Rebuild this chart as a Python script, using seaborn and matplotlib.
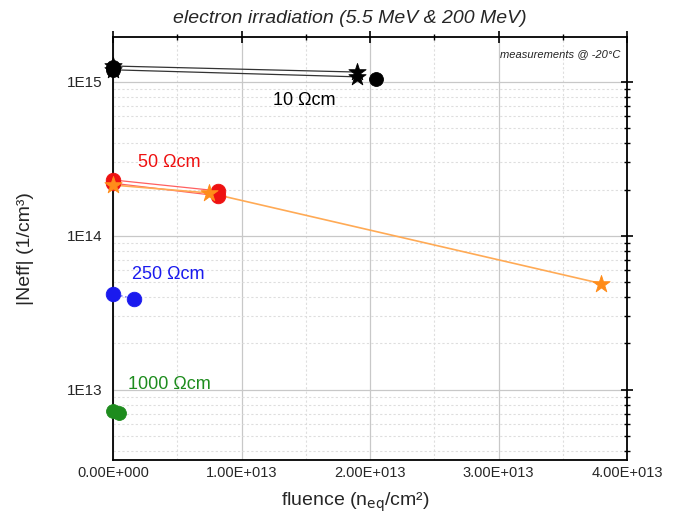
import numpy as np
import pandas as pd
import matplotlib
matplotlib.use("Agg")
import matplotlib.pyplot as plt
import seaborn as sns
from matplotlib.ticker import FixedLocator, FuncFormatter, LogLocator, MultipleLocator

sns.set_theme(style="white")
plt.rcParams['font.family'] = ['Liberation Sans', 'DejaVu Sans']

# ---- data ----
# 10 Ohm cm (black)
blk_circ_x = [0.0, 0.0, 2.05e13]
blk_circ_y = [1.25e15, 1.20e15, 1.05e15]
blk_starA_x = [0.0, 1.9e13]
blk_starA_y = [1.27e15, 1.16e15]
blk_starB_x = [0.0, 1.9e13]
blk_starB_y = [1.20e15, 1.08e15]
# 50 Ohm cm (red circles, orange stars)
red_A_x = [0.0, 8.2e12]
red_A_y = [2.31e14, 1.96e14]
red_B_x = [0.0, 8.2e12]
red_B_y = [2.20e14, 1.82e14]
org_star_x = [0.0, 7.5e12, 3.8e13]
org_star_y = [2.14e14, 1.90e14, 4.9e13]
# 250 Ohm cm (blue)
blu_x = [0.0, 1.65e12]
blu_y = [4.2e13, 3.9e13]
# 1000 Ohm cm (green)
grn_x = [0.0, 5.0e11]
grn_y = [7.3e12, 7.1e12]

labels = ["10 \u03a9cm", "50 \u03a9cm", "250 \u03a9cm", "1000 \u03a9cm"]
xticks = [0, 1e13, 2e13, 3e13, 4e13]
xticklabels = ["0.00E+000", "1.00E+013", "2.00E+013", "3.00E+013", "4.00E+013"]
yticks = [1e13, 1e14, 1e15]
yticklabels = ["1E13", "1E14", "1E15"]

fig = plt.figure(figsize=(6.74, 5.21), dpi=100)
ax = fig.add_axes([113/674, 1-460/521, (627-113)/674, (460-37)/521])
ax.set_yscale('log')
ax.set_xlim(0, 4e13)
ax.set_ylim(3.5e12, 1.96e15)

# grid
ax.xaxis.set_minor_locator(MultipleLocator(5e12))
ax.yaxis.set_minor_locator(LogLocator(base=10, subs=np.arange(2, 10)))
ax.grid(True, which='major', color='#c8c8c8', lw=0.9, ls='-')
ax.grid(True, which='minor', color='#dedede', lw=0.8, ls=(0, (2, 2)))
ax.set_axisbelow(True)

def line(x, y, color, lw=1.0, ls='-'):
    d = pd.DataFrame({'x': x, 'y': y})
    sns.lineplot(data=d, x='x', y='y', ax=ax, color=color, lw=lw, ls=ls,
                 estimator=None, sort=False, zorder=3)

def pts(x, y, color, marker='o', s=90, ec=None):
    d = pd.DataFrame({'x': x, 'y': y})
    sns.scatterplot(data=d, x='x', y='y', ax=ax, color=color, marker=marker, s=s,
                    edgecolor=ec if ec else color, linewidth=0.6, zorder=5, clip_on=False)

# black
line(blk_starA_x, blk_starA_y, '#333333', lw=0.9)
line(blk_starB_x, blk_starB_y, '#333333', lw=0.9)
pts(blk_circ_x, blk_circ_y, 'black', 'o', 100)
pts(blk_starA_x, blk_starA_y, 'black', '*', 170)
pts(blk_starB_x, blk_starB_y, 'black', '*', 170)
# red / orange
line(red_A_x, red_A_y, '#ff6060', lw=0.9)
line(red_B_x, red_B_y, '#ff6060', lw=0.9)
line(org_star_x, org_star_y, '#ffaa55', lw=1.2)
pts(red_A_x, red_A_y, '#ee1111', 'o', 110)
pts(red_B_x, red_B_y, '#ee1111', 'o', 110)
pts(org_star_x, org_star_y, '#ff8c1a', '*', 170)
# blue
line(blu_x, blu_y, '#5555ff', lw=1.0, ls=(0, (1, 2)))
pts(blu_x, blu_y, '#1a1aee', 'o', 110)
# green
pts(grn_x, grn_y, '#1e8c1e', 'o', 100)

# text labels
ax.text(1.49e13, 7.6e14, labels[0], color='black', fontsize=13, ha='center', va='center')
ax.text(4.4e12, 3.02e14, labels[1], color='#ee1111', fontsize=13, ha='center', va='center')
ax.text(4.3e12, 5.6e13, labels[2], color='#1a1aee', fontsize=13, ha='center', va='center')
ax.text(4.4e12, 1.08e13, labels[3], color='#1e8c1e', fontsize=13, ha='center', va='center')
ax.text((620-113)/514, 1-(54-37)/423, "measurements @ -20\u00b0C", transform=ax.transAxes,
        fontsize=8, style='italic', ha='right', va='center', color='#222222')

# ticks
ax.set_xticks(xticks)
ax.set_xticklabels(xticklabels)
ax.yaxis.set_major_locator(FixedLocator(yticks))
ax.set_yticklabels(yticklabels)
ax.tick_params(axis='both', which='major', direction='inout', length=8, width=1.2,
               labelsize=10.5, top=True, right=True, color='black')
ax.tick_params(axis='both', which='minor', direction='inout', length=5, width=1.0,
               top=True, right=True, color='black')
ax.tick_params(axis='y', which='both', labelsize=11)
ax.tick_params(axis='x', which='major', pad=0)
for sp in ax.spines.values():
    sp.set_color('black')
    sp.set_linewidth(1.3)

ax.set_xlabel("fluence (n$_{\\mathrm{eq}}$/cm\u00b2)", fontsize=14, labelpad=8, x=(355-113)/514)
ax.set_ylabel("|Neff| (1/cm\u00b3)", fontsize=14, labelpad=24)
ax.set_title("electron irradiation (5.5 MeV & 200 MeV)", fontsize=14, style='italic',
             pad=10, x=(350-113)/514)

fig.savefig("out.png", dpi=100)
